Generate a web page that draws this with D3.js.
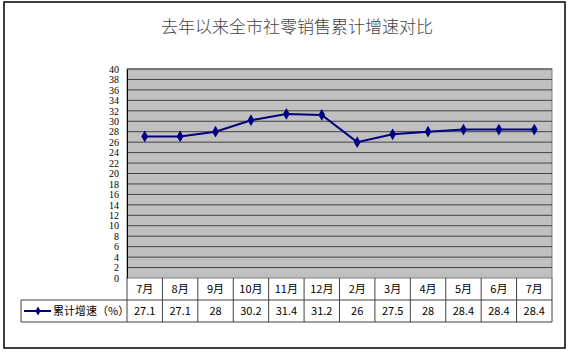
<!DOCTYPE html>
<html>
<head>
<meta charset="utf-8">
<script src="https://cdn.jsdelivr.net/npm/d3@7"></script>
<style>
  body { margin: 0; background: #fff; }
  svg text { font-family: "Noto Sans CJK SC", "DejaVu Sans", sans-serif; }
</style>
</head>
<body>
<div id="chart"></div>
<script>
// data
const months = ['7月','8月','9月','10月','11月','12月','2月','3月','4月','5月','6月','7月'];
const growth = [27.1, 27.1, 28, 30.2, 31.4, 31.2, 26, 27.5, 28, 28.4, 28.4, 28.4];
const yTicks = d3.range(0, 41, 2);
const seriesName = '累计增速（%）';
const title = '去年以来全市社零销售累计增速对比';

const width = 568, height = 353;
const plot = {left: 127, right: 552, top: 69, bottom: 278};
const rowH = 22;

const svg = d3.select('#chart').append('svg')
    .attr('width', width)
    .attr('height', height);

// outer frame
svg.append('rect')
    .attr('x', 4).attr('y', 2)
    .attr('width', 561).attr('height', 346)
    .attr('fill', '#fff')
    .attr('stroke', '#000')
    .attr('stroke-width', 1.5);

svg.append('text')
    .attr('x', 297).attr('y', 33)
    .attr('text-anchor', 'middle')
    .attr('font-size', 17)
    .attr('font-weight', 300)
    .attr('fill', '#444')
    .text(title);

const x = d3.scaleBand().domain(d3.range(months.length))
    .range([plot.left, plot.right]);
const y = d3.scaleLinear().domain([0, 40]).range([plot.bottom, plot.top]);

// plot background
svg.append('rect')
    .attr('x', plot.left).attr('y', plot.top)
    .attr('width', plot.right - plot.left)
    .attr('height', plot.bottom - plot.top)
    .attr('fill', '#c0c0c0')
    .attr('stroke', '#808080');

// gridlines
svg.append('g').selectAll('line')
    .data(yTicks.slice(1))
    .join('line')
    .attr('x1', plot.left).attr('x2', plot.right)
    .attr('y1', d => y(d)).attr('y2', d => y(d))
    .attr('stroke', '#404040')
    .attr('stroke-width', 1);

// y axis
const yAxis = svg.append('g')
    .attr('transform', `translate(${plot.left},0)`)
    .call(d3.axisLeft(y).tickValues(yTicks).tickSize(0).tickPadding(8));
yAxis.select('.domain').attr('stroke', '#000');
yAxis.selectAll('text')
    .attr('font-size', 10)
    .attr('fill', '#000')
    .style('font-family', '"Liberation Serif", serif');

// line + markers
const line = d3.line()
    .x((d, i) => x(i) + x.bandwidth() / 2)
    .y(d => y(d));

svg.append('path')
    .datum(growth)
    .attr('d', line)
    .attr('fill', 'none')
    .attr('stroke', '#000080')
    .attr('stroke-width', 2);

const diamond = d3.symbol().type(d3.symbolDiamond).size(40);
svg.append('g').selectAll('path')
    .data(growth)
    .join('path')
    .attr('d', diamond)
    .attr('transform', (d, i) => `translate(${x(i) + x.bandwidth() / 2},${y(d)})`)
    .attr('fill', '#000080');

// data table
const table = svg.append('g');
const tblTop = plot.bottom, tblBottom = plot.bottom + rowH * 2;
const lineCol = '#404040';

// horizontal rules
table.append('line')
    .attr('x1', 21).attr('x2', plot.right)
    .attr('y1', tblTop + rowH).attr('y2', tblTop + rowH);
table.append('line')
    .attr('x1', 21).attr('x2', plot.right)
    .attr('y1', tblBottom).attr('y2', tblBottom);
// verticals
table.selectAll('line.col')
    .data(d3.range(months.length + 1))
    .join('line')
    .classed('col', true)
    .attr('x1', i => i < months.length ? x(i) : plot.right)
    .attr('x2', i => i < months.length ? x(i) : plot.right)
    .attr('y1', tblTop).attr('y2', tblBottom);
table.append('line')
    .attr('x1', 21).attr('x2', 21)
    .attr('y1', tblTop + rowH).attr('y2', tblBottom);
table.selectAll('line').attr('stroke', lineCol).attr('stroke-width', 1);

table.selectAll('text.month')
    .data(months)
    .join('text')
    .classed('month', true)
    .attr('x', (d, i) => x(i) + x.bandwidth() / 2)
    .attr('y', tblTop + rowH / 2 + 4)
    .attr('text-anchor', 'middle')
    .attr('font-size', 11)
    .text(d => d);

table.selectAll('text.val')
    .data(growth)
    .join('text')
    .classed('val', true)
    .attr('x', (d, i) => x(i) + x.bandwidth() / 2)
    .attr('y', tblTop + rowH * 1.5 + 4)
    .attr('text-anchor', 'middle')
    .attr('font-size', 11)
    .text(d => d);

// legend key in the table
const ly = tblTop + rowH * 1.5;
table.append('line')
    .attr('x1', 24).attr('x2', 51)
    .attr('y1', ly).attr('y2', ly)
    .attr('stroke', '#000080').attr('stroke-width', 2);
table.append('path')
    .attr('d', d3.symbol().type(d3.symbolDiamond).size(24))
    .attr('transform', `translate(38,${ly})`)
    .attr('fill', '#000080');
table.append('text')
    .attr('x', 53).attr('y', ly + 4)
    .attr('font-size', 11)
    .text(seriesName);
</script>
</body>
</html>
